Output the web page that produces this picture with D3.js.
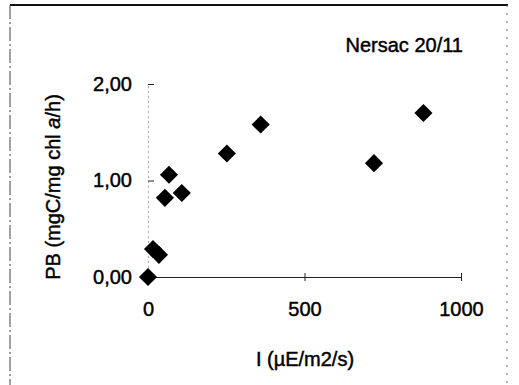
<!DOCTYPE html>
<html>
<head>
<meta charset="utf-8">
<script src="https://cdn.jsdelivr.net/npm/d3@7"></script>
<style>
  body { margin: 0; background: #fff; }
  text { font-family: "Liberation Sans", Arial, sans-serif; fill: #000; stroke: #000; stroke-width: 0.45px; }
</style>
</head>
<body>
<div id="chart"></div>
<script>
// Data
var irradiance = [0, 16, 35, 54, 67, 108, 252, 360, 722, 880];
var pb = [0.00, 0.29, 0.23, 0.82, 1.06, 0.87, 1.28, 1.58, 1.18, 1.70];
var xTicks = [0, 500, 1000];
var yTicks = [0, 1, 2];
var chartTitle = 'Nersac 20/11';

var width = 519, height = 385;
var margin = {top: 84, bottom: 108, left: 148, right: 58};
var plotWidth = width - margin.left - margin.right;
var plotHeight = height - margin.top - margin.bottom;

var svg = d3.select('#chart').append('svg')
    .attr('width', width)
    .attr('height', height);

// scanned page frame
svg.append('line').attr('x1', 10).attr('x2', 508).attr('y1', 5).attr('y2', 5)
    .attr('stroke', '#111').attr('stroke-width', 2);
svg.append('line').attr('x1', 10).attr('x2', 10).attr('y1', 5).attr('y2', height)
    .attr('stroke', '#444').attr('stroke-width', 1).attr('stroke-dasharray', '14,3,2,3');
svg.append('line').attr('x1', 507).attr('x2', 507).attr('y1', 5).attr('y2', height)
    .attr('stroke', '#666').attr('stroke-width', 1).attr('stroke-dasharray', '2,6');

var g = svg.append('g')
    .attr('transform', `translate(${margin.left},${margin.top})`);

// Scales setup
var xScale = d3.scaleLinear().domain([0, 1000]).range([0, plotWidth]);
var yScale = d3.scaleLinear().domain([0, 2]).range([plotHeight, 0]);

// Axis setup
var xAxis = d3.axisBottom(xScale).tickValues(xTicks).tickSizeInner(4).tickSizeOuter(0).tickPadding(21)
    .tickFormat(d3.format('d'));
var yAxis = d3.axisLeft(yScale).tickValues(yTicks).tickSizeInner(6).tickSizeOuter(0).tickPadding(10)
    .tickFormat((d) => d3.format('.2f')(d).replace('.', ','));

var gx = g.append('g').attr('transform', `translate(0,${plotHeight})`).call(xAxis);
gx.select('.domain').attr('stroke', '#222').attr('stroke-width', 1);
gx.selectAll('.tick line').attr('y1', -4).attr('stroke', '#222');
gx.selectAll('.tick text').style('font-size', '20px');

var gy = g.append('g').call(yAxis);
gy.select('.domain').attr('stroke', '#555').attr('stroke-dasharray', '1,4');
gy.selectAll('.tick line').attr('x2', 6).attr('stroke', '#222');
gy.selectAll('.tick text').style('font-size', '20px');

// data points, diamonds
var pts = irradiance.map((d, i) => ({x: d, y: pb[i]}));
g.selectAll('path.pt').data(pts).enter().append('path')
    .attr('class', 'pt')
    .attr('d', d3.symbol().type(d3.symbolDiamond2).size(210))
    .attr('transform', (d) => `translate(${xScale(d.x)},${yScale(d.y)})`)
    .attr('fill', '#000');

// titles
svg.append('text')
    .attr('x', 463).attr('y', 52)
    .attr('text-anchor', 'end')
    .style('font-size', '20px')
    .text(chartTitle);

svg.append('text')
    .attr('x', 305).attr('y', 366)
    .attr('text-anchor', 'middle')
    .style('font-size', '20px')
    .text('I (µE/m2/s)');

var yLab = svg.append('text')
    .attr('transform', 'translate(60,187) rotate(-90)')
    .attr('text-anchor', 'middle')
    .style('font-size', '20px');
yLab.append('tspan').text('PB (mgC/mg chl ');
yLab.append('tspan').style('font-style', 'italic').text('a');
yLab.append('tspan').text('/h)');
</script>
</body>
</html>
